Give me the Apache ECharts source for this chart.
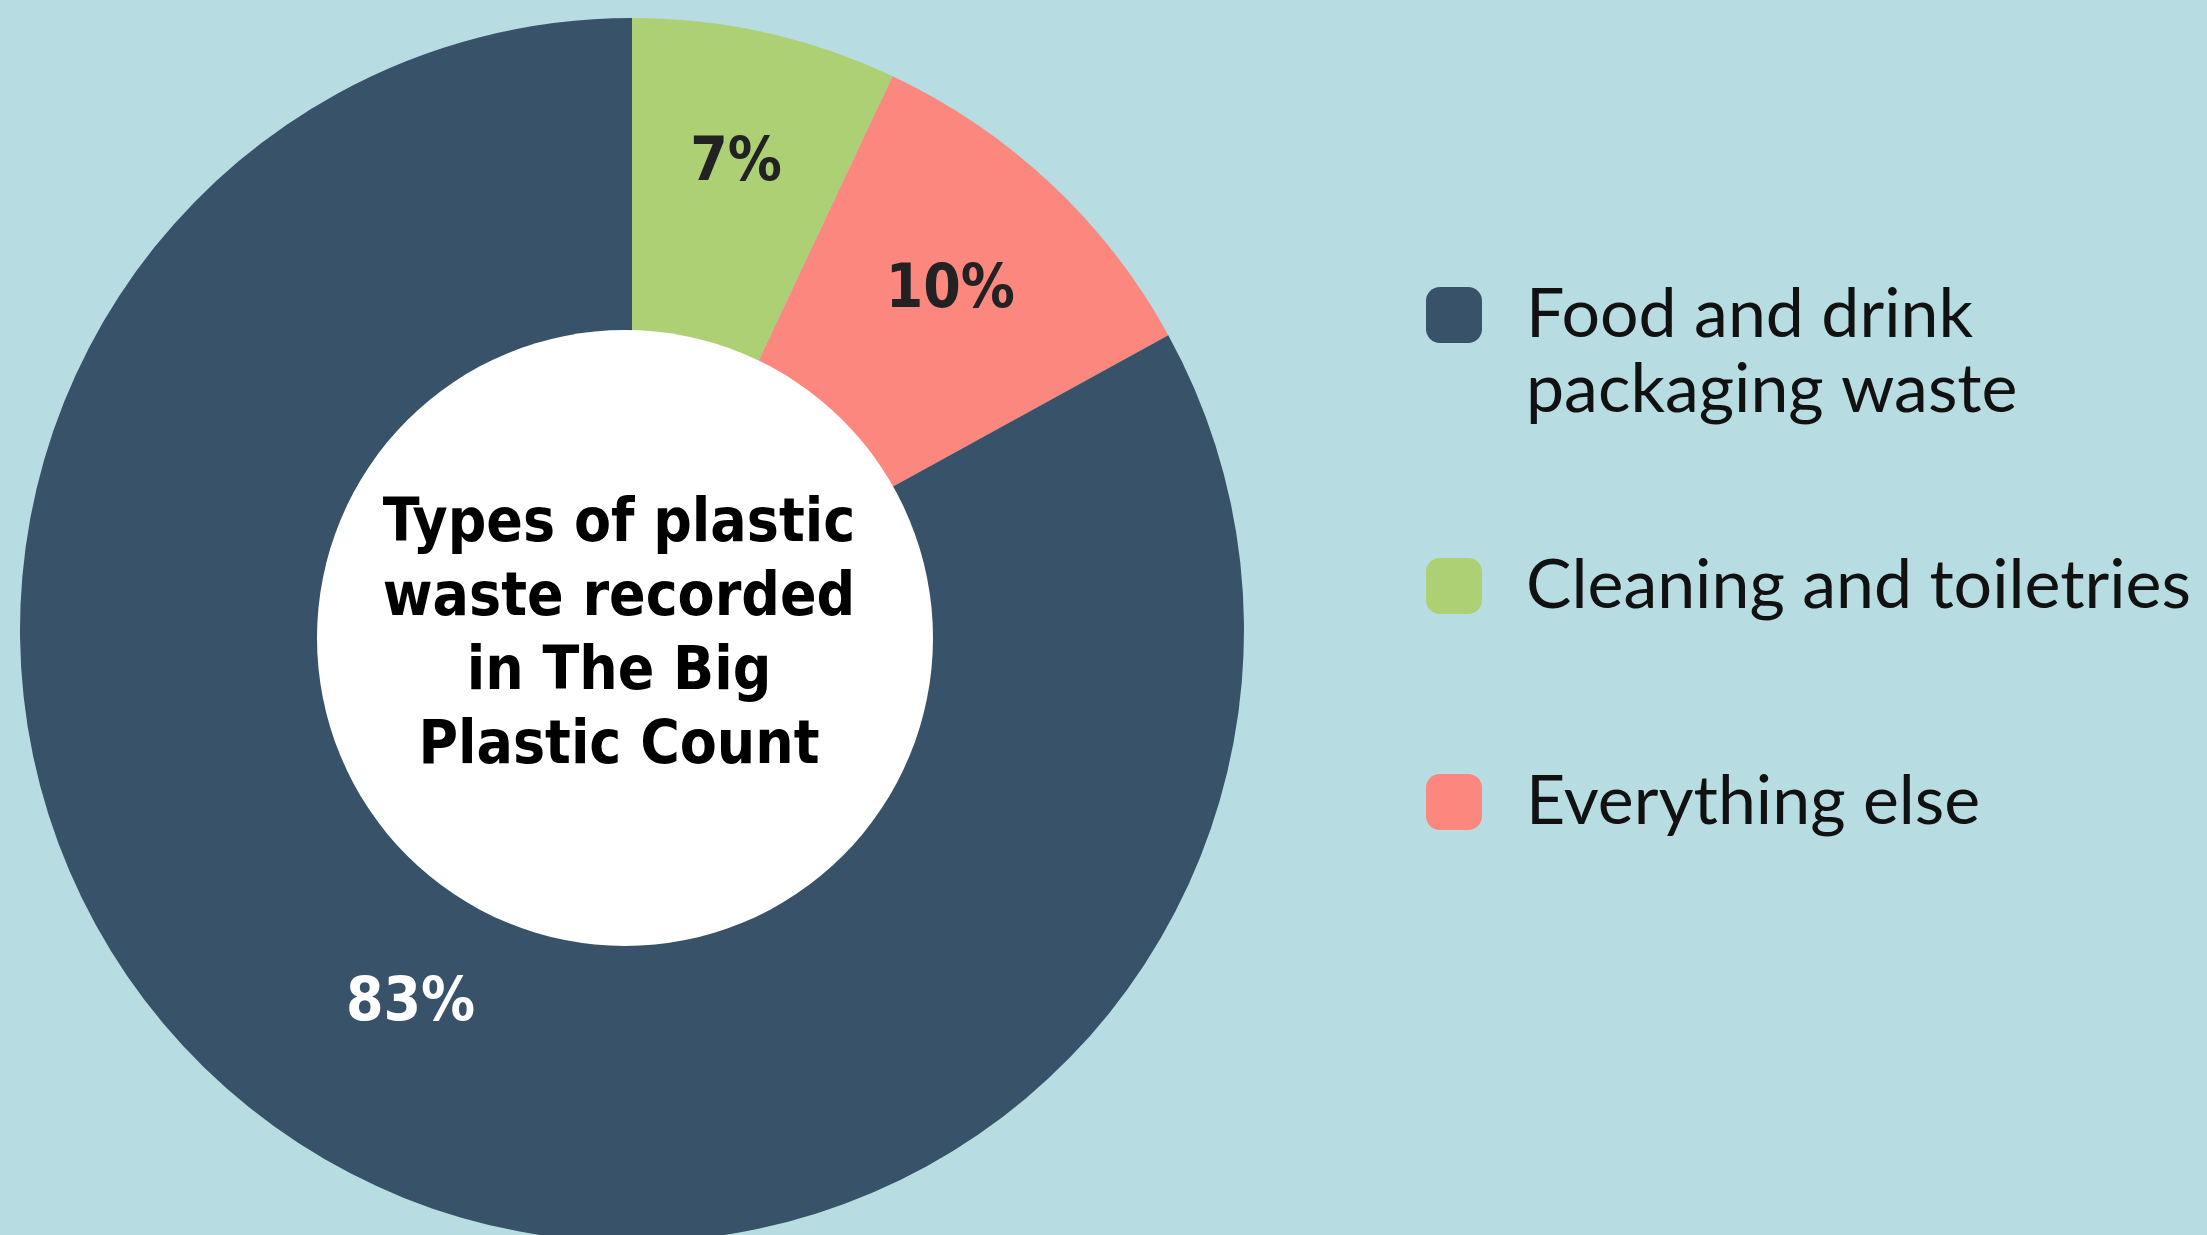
<!DOCTYPE html>
<html>
<head>
<meta charset="utf-8">
<script src="https://cdn.jsdelivr.net/npm/echarts@6/dist/echarts.min.js"></script>
<style>
html,body{margin:0;padding:0;background:#B7DCE1;}
#chart{width:2207px;height:1235px;}
</style>
</head>
<body>
<div id="chart"></div>
<script>
// ---- data ----
const sliceNames = ['Cleaning and toiletries', 'Everything else', 'Food and drink packaging waste'];
const sliceValues = [7, 10, 83];
const sliceColors = ['#ADD075', '#FB877E', '#375269'];
const labelColors = ['#222222', '#222222', '#ffffff'];
const legendOrder = ['Food and drink packaging waste', 'Cleaning and toiletries', 'Everything else'];
const legendText = ['\nFood and drink\npackaging waste', 'Cleaning and toiletries', 'Everything else'];
const centerTitle = 'Types of plastic\nwaste recorded\nin The Big\nPlastic Count';

// ---- layout / style constants ----
const CENTER = [632, 630];
const OUTER_R = 612;
const labelRadius = [474, 462, 432];   // radial position of each slice's label
const HEAVY = '"DejaVu Sans Condensed", "DejaVu Sans", sans-serif';

const chart = echarts.init(document.getElementById('chart'));

const pieData = sliceNames.map((n, i) => ({
  name: n, value: sliceValues[i], itemStyle: { color: sliceColors[i] }
}));

// one transparent ring per slice, only used to place that slice's percentage label
const labelSeries = sliceNames.map((_, k) => ({
  type: 'pie', center: CENTER, radius: [2 * labelRadius[k] - OUTER_R, OUTER_R],
  startAngle: 90, clockwise: true, silent: true, z: 4,
  labelLine: { show: false },
  data: sliceNames.map((n, i) => ({
    name: n, value: sliceValues[i],
    itemStyle: { color: 'rgba(0,0,0,0)' },
    label: {
      show: i === k, position: 'inside', formatter: '{c}%',
      fontFamily: HEAVY, fontWeight: 'bold', fontSize: 60, color: labelColors[i]
    }
  }))
}));

const baseLegend = {
  orient: 'vertical', left: 1426, padding: 0,
  itemWidth: 56, itemHeight: 56, icon: 'roundRect',
  selectedMode: false,
  formatter: name => legendText[legendOrder.indexOf(name)]
};
const legendTops = [202.5, 548.5, 764.5];
const legends = legendOrder.map((n, i) => Object.assign({}, baseLegend, {
  data: [n],
  top: legendTops[i],
  textStyle: {
    fontFamily: 'Lato, "Open Sans", sans-serif', fontSize: 68, color: '#111111',
    lineHeight: 75,
    padding: [0, 0, 0, 39]
  }
}));

chart.setOption({
  backgroundColor: '#B7DCE1',
  animation: false,
  legend: legends,
  graphic: [{
    type: 'text', x: 619, y: 636, z: 100,
    style: {
      text: centerTitle, align: 'center', verticalAlign: 'middle',
      fontFamily: HEAVY, fontWeight: 'bold', fontSize: 60, lineHeight: 74,
      fill: '#000000'
    }
  }],
  series: [
    {
      type: 'pie', center: CENTER, radius: [0, OUTER_R],
      startAngle: 90, clockwise: true, silent: true,
      label: { show: false }, labelLine: { show: false },
      data: pieData
    },
    {
      type: 'pie', center: [625, 638], radius: [0, 308],
      silent: true, z: 3,
      label: { show: false }, labelLine: { show: false },
      data: [{ name: '', value: 1, itemStyle: { color: '#ffffff' } }]
    }
  ].concat(labelSeries)
});
</script>
</body>
</html>
